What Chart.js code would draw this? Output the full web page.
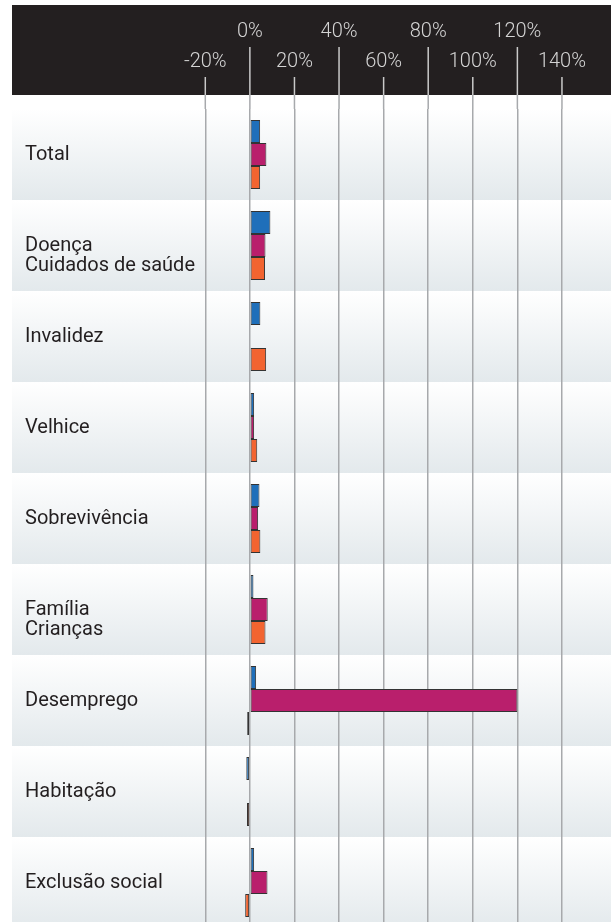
<!DOCTYPE html>
<html>
<head>
<meta charset="utf-8">
<script src="https://cdn.jsdelivr.net/npm/chart.js@4/dist/chart.umd.min.js"></script>
<style>
  html, body { margin: 0; padding: 0; background: #fff; overflow: hidden; }
  #wrap { width: 611px; height: 928px; position: relative; }
</style>
</head>
<body>
<div id="wrap"><canvas id="chart"></canvas></div>
<script>
const categories = [
  'Total',
  ['Doença', 'Cuidados de saúde'],
  'Invalidez',
  'Velhice',
  'Sobrevivência',
  ['Família', 'Crianças'],
  'Desemprego',
  'Habitação',
  'Exclusão social'
];
const blueValues    = [4.6, 9.2, 4.7, 1.9, 4.3, 1.6, 2.8, -1.6, 1.9];
const magentaValues = [7.4, 7.0, null, 1.9, 3.7, 8.0, 120, -0.3, 7.9];
const orangeValues  = [4.6, 6.8, 7.3, 3.3, 4.7, 7.0, -1.2, -1.3, -2.1];
const xTicks = [-20, 0, 20, 40, 60, 80, 100, 120, 140];

// dark header, row bands and the header tick marks
const backdrop = {
  id: 'backdrop',
  beforeDraw(chart) {
    const { ctx, chartArea, scales: { x, y } } = chart;
    ctx.save();
    ctx.fillStyle = '#231f20';
    ctx.fillRect(12, 5, chart.width - 12, 90);

    const step = y.getPixelForValue(1) - y.getPixelForValue(0);
    categories.forEach((c, i) => {
      const top = y.getPixelForValue(i) - step / 2;
      const g = ctx.createLinearGradient(0, top, 0, top + step);
      g.addColorStop(0, '#ffffff');
      g.addColorStop(1, '#e3e9ec');
      ctx.fillStyle = g;
      ctx.fillRect(12, top, chart.width - 12, step);
    });

    ctx.lineWidth = 1.5;
    xTicks.forEach((v, i) => {
      const px = x.getPixelForValue(v);
      ctx.strokeStyle = '#c9c9c9';
      ctx.beginPath();
      ctx.moveTo(px, i % 2 ? 47 : 77);
      ctx.lineTo(px, 95);
      ctx.stroke();
      ctx.strokeStyle = '#a7a9ac';
      ctx.beginPath();
      ctx.moveTo(px, 95);
      ctx.lineTo(px, chartArea.top);
      ctx.stroke();
    });
    ctx.restore();
  }
};

new Chart(document.getElementById('chart'), {
  type: 'bar',
  data: {
    labels: categories,
    datasets: [
      { label: 'A', data: blueValues, backgroundColor: '#1f6fba' },
      { label: 'B', data: magentaValues, backgroundColor: '#b91f6c' },
      { label: 'C', data: orangeValues, backgroundColor: '#f26430' }
    ]
  },
  options: {
    indexAxis: 'y',
    responsive: true,
    maintainAspectRatio: false,
    animation: false,
    layout: { padding: { left: 25, right: 0, top: 0, bottom: 0 } },
    datasets: {
      bar: {
        categoryPercentage: 0.76, barPercentage: 1,
        borderWidth: 1, borderColor: '#333333', borderSkipped: false
      }
    },
    plugins: { legend: { display: false }, tooltip: { enabled: false } },
    scales: {
      x: {
        position: 'top',
        min: -30,
        max: 162,
        afterBuildTicks: s => { s.ticks = xTicks.map(v => ({ value: v })); },
        afterFit: s => { s.height = 109; s.paddingLeft = 0; s.paddingRight = 0; },
        grid: { color: '#a7a9ac', lineWidth: 1.5, drawTicks: false },
        border: { display: false },
        ticks: {
          autoSkip: false, maxRotation: 0, minRotation: 0, padding: 32,
          color: '#d4d4d4',
          font: { family: 'Roboto', size: 20, weight: '300', lineHeight: '30px' },
          callback: (v, i) => i % 2 ? [v + '%', ''] : ['', v + '%']
        }
      },
      y: {
        afterFit: s => { s.width = 158; s.paddingTop = 0; s.paddingBottom = 0; },
        grid: { display: false },
        border: { display: false },
        ticks: {
          mirror: true, crossAlign: 'near', padding: -158, autoSkip: false,
          color: '#231f20',
          font: { family: 'Roboto', size: 20, lineHeight: '20px' },
          callback: (v, i) => Array.isArray(categories[i]) ? ['', ...categories[i]] : categories[i]
        }
      }
    }
  },
  plugins: [backdrop]
});
</script>
</body>
</html>
